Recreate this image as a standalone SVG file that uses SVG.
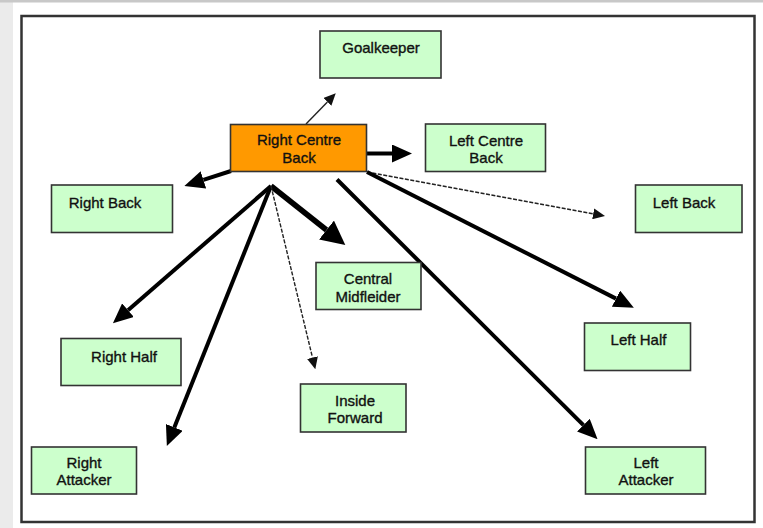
<svg xmlns="http://www.w3.org/2000/svg" width="763" height="528" viewBox="0 0 763 528">
  <style>
    .box { fill: #ccffcc; stroke: #333; stroke-width: 1.6; }
    .key { fill: #ff9900; stroke: #333; stroke-width: 1.6; }
    .lbl { font-family: "Liberation Sans", Arial, sans-serif; font-size: 15px; fill: #111; stroke: #111; stroke-width: 0.35; text-anchor: middle; }
    .thick { stroke: #000; stroke-width: 4; fill: none; }
    .heavy { stroke: #000; stroke-width: 5.5; fill: none; }
    .dash { stroke: #222; stroke-width: 1.4; fill: none; stroke-dasharray: 4 1.5; }
    .thin { stroke: #222; stroke-width: 1.4; fill: none; }
  </style>
  <defs>
    <marker id="headBig" markerUnits="userSpaceOnUse" markerWidth="20" markerHeight="18" viewBox="0 0 20 18" refX="0" refY="9" orient="auto">
      <path d="M0,0 L20,9 L0,18 z" fill="#000"/>
    </marker>
    <marker id="headHuge" markerUnits="userSpaceOnUse" markerWidth="24" markerHeight="24" viewBox="0 0 24 24" refX="0" refY="12" orient="auto">
      <path d="M0,0 L24,12 L0,24 z" fill="#000"/>
    </marker>
    <marker id="headSmall" markerUnits="userSpaceOnUse" markerWidth="12" markerHeight="11" viewBox="0 0 12 11" refX="0" refY="5.5" orient="auto">
      <path d="M0,0 L12,5.5 L0,11 z" fill="#111"/>
    </marker>
  </defs>

  <!-- page surround -->
  <rect x="0" y="0" width="763" height="528" fill="#ffffff"/>
  <rect x="0" y="0" width="13" height="528" fill="#ebebeb"/>
  <rect x="0" y="0" width="763" height="2.5" fill="#c8c8c8"/>

  <!-- figure frame -->
  <rect x="21.5" y="16" width="733" height="506" fill="#ffffff" stroke="#333" stroke-width="2.5"/>

  <!-- connectors -->
  <g id="connectors">
    <line class="thin" x1="306" y1="124" x2="327.4" y2="101.9" marker-end="url(#headSmall)"/>
    <line class="thick" x1="367" y1="153.5" x2="392" y2="153.5" marker-end="url(#headBig)"/>
    <line class="thick" x1="231" y1="171" x2="203.4" y2="179.9" marker-end="url(#headBig)"/>
    <line class="dash" x1="367" y1="172" x2="593.2" y2="213.8" marker-end="url(#headSmall)"/>
    <line class="heavy" x1="271" y1="186" x2="326.5" y2="230" marker-end="url(#headHuge)"/>
    <line class="thick" x1="271" y1="186" x2="128" y2="310.2" marker-end="url(#headBig)"/>
    <line class="thick" x1="271" y1="186" x2="174.3" y2="427.4" marker-end="url(#headBig)"/>
    <line class="dash" x1="271" y1="186" x2="312.5" y2="357.6" marker-end="url(#headSmall)"/>
    <line class="thick" x1="337" y1="179.5" x2="583.4" y2="425.2" marker-end="url(#headBig)"/>
    <line class="thick" x1="367" y1="172" x2="616" y2="298.6" marker-end="url(#headBig)"/>
  </g>

  <!-- nodes -->
  <g id="goalkeeper">
    <rect class="box" x="320" y="31" width="121" height="47"/>
    <text class="lbl" x="381" y="53">Goalkeeper</text>
  </g>
  <g id="right-centre-back">
    <rect class="key" x="230.5" y="124.5" width="136" height="47"/>
    <text class="lbl" x="299" y="145">Right Centre</text>
    <text class="lbl" x="299" y="163">Back</text>
  </g>
  <g id="left-centre-back">
    <rect class="box" x="425.5" y="124" width="120" height="47.5"/>
    <text class="lbl" x="486" y="146">Left Centre</text>
    <text class="lbl" x="486" y="163">Back</text>
  </g>
  <g id="right-back">
    <rect class="box" x="51.5" y="185" width="121" height="47.5"/>
    <text class="lbl" x="105" y="207.5">Right Back</text>
  </g>
  <g id="left-back">
    <rect class="box" x="635.5" y="185" width="106.5" height="47.5"/>
    <text class="lbl" x="684" y="207.5">Left Back</text>
  </g>
  <g id="central-midfielder">
    <rect class="box" x="316" y="262.5" width="105" height="47"/>
    <text class="lbl" x="368" y="284">Central</text>
    <text class="lbl" x="368" y="301.5">Midfleider</text>
  </g>
  <g id="right-half">
    <rect class="box" x="61" y="338.5" width="120" height="47"/>
    <text class="lbl" x="124" y="361.5">Right Half</text>
  </g>
  <g id="left-half">
    <rect class="box" x="584.5" y="323" width="106" height="47.5"/>
    <text class="lbl" x="638.5" y="345">Left Half</text>
  </g>
  <g id="inside-forward">
    <rect class="box" x="300.5" y="384" width="105.5" height="48"/>
    <text class="lbl" x="355" y="405.5">Inside</text>
    <text class="lbl" x="355" y="423">Forward</text>
  </g>
  <g id="right-attacker">
    <rect class="box" x="31.5" y="447" width="105" height="47"/>
    <text class="lbl" x="84" y="467.5">Right</text>
    <text class="lbl" x="84" y="485">Attacker</text>
  </g>
  <g id="left-attacker">
    <rect class="box" x="585.5" y="447" width="120" height="47"/>
    <text class="lbl" x="646" y="467.5">Left</text>
    <text class="lbl" x="646" y="485">Attacker</text>
  </g>
</svg>
